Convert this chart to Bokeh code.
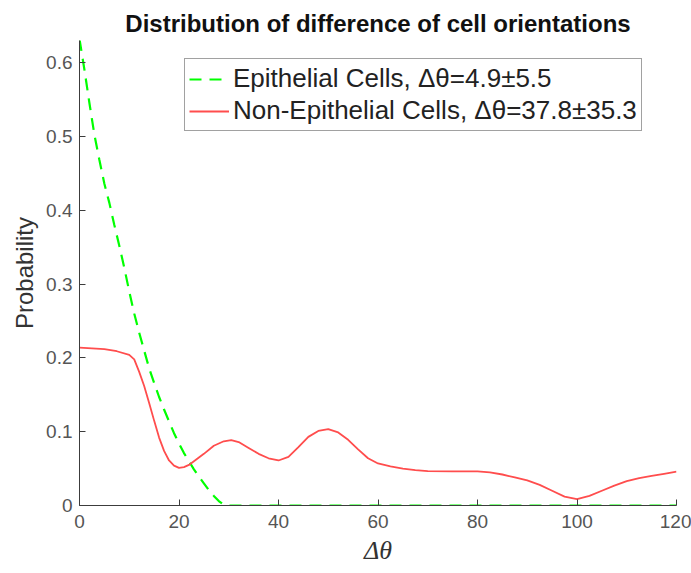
from bokeh.plotting import figure
from bokeh.models import Range1d, FixedTicker, NumeralTickFormatter, Legend, LegendItem
from bokeh.embed import file_html
from bokeh.resources import INLINE

# ---- data ----
epi_x = [0, 1, 2, 3, 4, 5, 6, 7, 8, 9, 10, 11, 12, 13, 14, 15, 16, 17, 18, 19, 20,
         21, 22, 23, 24, 25, 26, 27, 28, 29, 30, 120]
epi_y = [0.632, 0.59, 0.545, 0.502, 0.468, 0.436, 0.41, 0.38, 0.352, 0.322, 0.29,
         0.26, 0.234, 0.21, 0.186, 0.166, 0.147, 0.13, 0.114, 0.098, 0.084,
         0.071, 0.06, 0.049, 0.039, 0.03, 0.021, 0.013, 0.006, 0.001, 0.0, 0.0]

non_x = [0, 2.5, 5, 7.5, 10, 11, 12, 13, 14, 15, 16, 17, 18, 19, 20, 21, 22, 23, 25,
         27, 29, 30.5, 32, 34, 36, 38, 40, 42, 44, 46, 48, 50, 52, 54, 56, 58, 60,
         62.5, 65, 67.5, 70, 75, 80, 82.5, 85, 87.5, 90, 92.5, 95, 97.5, 100,
         102.5, 105, 107.5, 110, 112.5, 115, 117.5, 120]
non_y = [0.214, 0.213, 0.212, 0.209, 0.204, 0.198, 0.181, 0.162, 0.139, 0.115, 0.092,
         0.074, 0.061, 0.054, 0.051, 0.052, 0.055, 0.06, 0.07, 0.081, 0.087, 0.0885,
         0.086, 0.078, 0.07, 0.064, 0.061, 0.066, 0.079, 0.093, 0.101, 0.1035, 0.099,
         0.089, 0.076, 0.064, 0.057, 0.053, 0.05, 0.048, 0.0465, 0.0462, 0.0462,
         0.045, 0.042, 0.038, 0.034, 0.028, 0.02, 0.012, 0.0085, 0.013, 0.02, 0.027,
         0.033, 0.037, 0.04, 0.043, 0.046]

x_ticks = [0, 20, 40, 60, 80, 100, 120]
y_ticks = [0, 0.1, 0.2, 0.3, 0.4, 0.5, 0.6]

title_text = "Distribution of difference of cell orientations"
x_label = "\u0394\u03b8"
y_label = "Probability"
epi_label = "Epithelial Cells, \u0394\u03b8=4.9\u00b15.5"
non_label = "Non-Epithelial Cells, \u0394\u03b8=37.8\u00b135.3"

p = figure(width=691, height=573, output_backend="svg", toolbar_location=None,
           x_range=Range1d(0, 120), y_range=Range1d(0, 0.63),
           min_border_left=79, min_border_right=15, min_border_top=40,
           min_border_bottom=68)
p.outline_line_color = None
p.xgrid.visible = False
p.ygrid.visible = False
p.background_fill_color = "white"
p.border_fill_color = "white"

p.title.text = title_text
p.title.align = "center"
p.title.text_font = "Liberation Sans"
p.title.text_font_size = "24px"
p.title.text_font_style = "bold"
p.title.text_color = "#111111"
p.title.standoff = 8

r_epi = p.line(epi_x, epi_y, line_color="#00ff00", line_width=2.2, line_dash="12 8")
r_non = p.line(non_x, non_y, line_color="#ff4d4d", line_width=1.8)

for ax in (p.xaxis[0], p.yaxis[0]):
    ax.axis_line_color = "#3c3c3c"
    ax.major_tick_line_color = "#3c3c3c"
    ax.major_tick_in = 6
    ax.major_tick_out = 0
    ax.minor_tick_line_color = None
    ax.major_label_text_font = "Liberation Sans"
    ax.major_label_text_font_size = "19px"
    ax.major_label_text_color = "#555555"

p.xaxis.ticker = FixedTicker(ticks=x_ticks)
p.yaxis.ticker = FixedTicker(ticks=y_ticks)
p.yaxis.formatter = NumeralTickFormatter(format="0.[0]")
p.xaxis.major_label_standoff = 9
p.yaxis.major_label_standoff = 7

p.yaxis.axis_label = y_label
p.yaxis.axis_label_text_font = "Liberation Sans"
p.yaxis.axis_label_text_font_size = "24px"
p.yaxis.axis_label_text_font_style = "normal"
p.yaxis.axis_label_text_color = "#333333"
p.yaxis.axis_label_standoff = 5

p.xaxis.axis_label = x_label
p.xaxis.axis_label_text_font = "Liberation Serif"
p.xaxis.axis_label_text_font_size = "26px"
p.xaxis.axis_label_text_font_style = "italic"
p.xaxis.axis_label_text_color = "#333333"
p.xaxis.axis_label_standoff = 5

legend = Legend(items=[LegendItem(label=epi_label, renderers=[r_epi]),
                       LegendItem(label=non_label, renderers=[r_non])],
                location=(105, 374), margin=0, padding=4, spacing=1,
                glyph_width=40, label_standoff=4,
                label_text_font="Liberation Sans", label_text_font_size="26px",
                label_text_color="#222222",
                border_line_color="#444444", border_line_width=1,
                background_fill_color="white", background_fill_alpha=1.0)
p.add_layout(legend)

open("out.html", "w").write(file_html(p, INLINE))
